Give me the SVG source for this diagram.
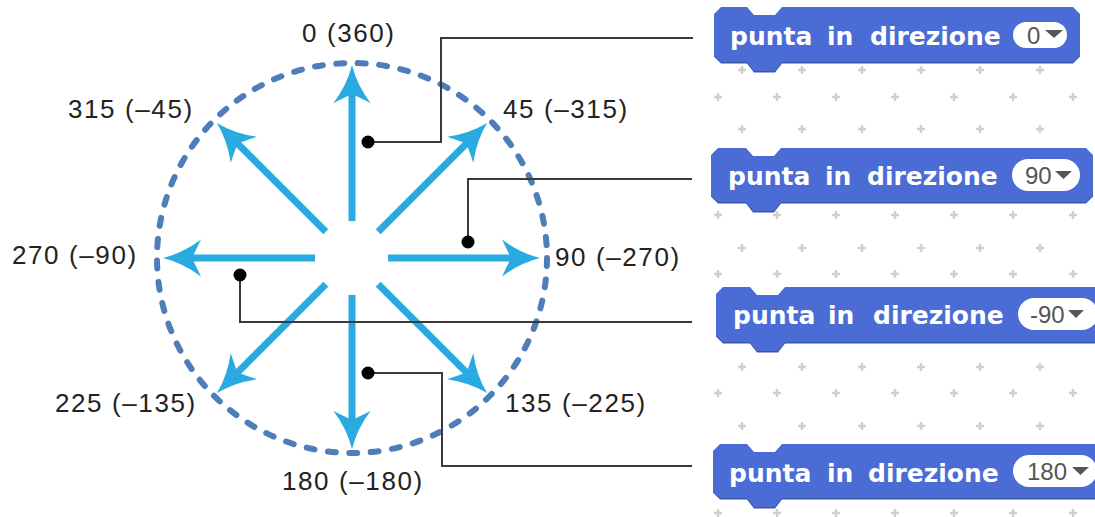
<svg xmlns="http://www.w3.org/2000/svg" width="1095" height="517" viewBox="0 0 1095 517">
<style>
.lbl{font-family:"Liberation Sans",Arial,sans-serif;font-size:26px;letter-spacing:1.6px;fill:#222}
.arrow{stroke:#29abe2;stroke-width:7;fill:none;marker-end:url(#ah)}
.conn{stroke:#3a3a3a;stroke-width:2;fill:none}
.dot{fill:#000}
.blk{fill:#4a6cd4}
.shd{fill:#3a56ab}
.btxt{font-family:"DejaVu Sans",Verdana,sans-serif;font-weight:bold;font-size:25px;fill:#fff}
.pill{fill:#fff}
.ptxt{font-family:"Liberation Sans",Arial,sans-serif;font-size:24px;fill:#555}
.tri{fill:#575757}
</style>
<defs>
<marker id="ah" markerUnits="userSpaceOnUse" viewBox="0 -20 40 40" markerWidth="40" markerHeight="40" refX="12" refY="0" orient="auto">
<path d="M38,0 Q18,-5 0,-18.5 L9,0 L0,18.5 Q18,5 38,0 Z" fill="#29abe2"/>
</marker>
<g id="p"><path d="M-4,0H4M0,-4V4" stroke="#cfcfcf" stroke-width="2.4"/></g>
</defs>

<g id="grid">
<use href="#p" x="742" y="70"/><use href="#p" x="802" y="70"/><use href="#p" x="862" y="70"/><use href="#p" x="921" y="70"/><use href="#p" x="980" y="70"/><use href="#p" x="1040" y="70"/>
<use href="#p" x="718" y="97"/><use href="#p" x="777" y="97"/><use href="#p" x="836" y="97"/><use href="#p" x="895" y="97"/><use href="#p" x="954" y="97"/><use href="#p" x="1013" y="97"/><use href="#p" x="1073" y="97"/>
<use href="#p" x="742" y="129"/><use href="#p" x="802" y="129"/><use href="#p" x="862" y="129"/><use href="#p" x="921" y="129"/><use href="#p" x="980" y="129"/><use href="#p" x="1040" y="129"/>
<use href="#p" x="718" y="215"/><use href="#p" x="777" y="215"/><use href="#p" x="836" y="215"/><use href="#p" x="895" y="215"/><use href="#p" x="954" y="215"/><use href="#p" x="1013" y="215"/><use href="#p" x="1073" y="215"/>
<use href="#p" x="742" y="248"/><use href="#p" x="802" y="248"/><use href="#p" x="862" y="248"/><use href="#p" x="921" y="248"/><use href="#p" x="980" y="248"/><use href="#p" x="1040" y="248"/>
<use href="#p" x="718" y="274"/><use href="#p" x="777" y="274"/><use href="#p" x="836" y="274"/><use href="#p" x="895" y="274"/><use href="#p" x="954" y="274"/><use href="#p" x="1013" y="274"/><use href="#p" x="1073" y="274"/>
<use href="#p" x="742" y="367"/><use href="#p" x="802" y="367"/><use href="#p" x="862" y="367"/><use href="#p" x="921" y="367"/><use href="#p" x="980" y="367"/><use href="#p" x="1040" y="367"/>
<use href="#p" x="718" y="393"/><use href="#p" x="777" y="393"/><use href="#p" x="836" y="393"/><use href="#p" x="895" y="393"/><use href="#p" x="954" y="393"/><use href="#p" x="1013" y="393"/><use href="#p" x="1073" y="393"/>
<use href="#p" x="742" y="426"/><use href="#p" x="802" y="426"/><use href="#p" x="862" y="426"/><use href="#p" x="921" y="426"/><use href="#p" x="980" y="426"/><use href="#p" x="1040" y="426"/>
<use href="#p" x="718" y="513"/><use href="#p" x="777" y="513"/><use href="#p" x="836" y="513"/><use href="#p" x="895" y="513"/><use href="#p" x="954" y="513"/><use href="#p" x="1013" y="513"/><use href="#p" x="1073" y="513"/>
</g>

<g id="compass">
<circle cx="352" cy="258" r="195" fill="none" stroke="#4f7db8" stroke-width="6" stroke-dasharray="8 13.495" stroke-linecap="round"/>
<line class="arrow" x1="352" y1="221" x2="352" y2="91"/>
<line class="arrow" x1="352" y1="295" x2="352" y2="423"/>
<line class="arrow" x1="388" y1="258" x2="514" y2="258"/>
<line class="arrow" x1="315" y1="258" x2="189" y2="258"/>
<line class="arrow" x1="378.2" y1="231.8" x2="468.7" y2="141.3"/>
<line class="arrow" x1="325.8" y1="231.8" x2="235.3" y2="141.3"/>
<line class="arrow" x1="378.2" y1="284.2" x2="468.7" y2="374.7"/>
<line class="arrow" x1="325.8" y1="284.2" x2="235.3" y2="374.7"/>
</g>

<g id="labels">
<text class="lbl" x="302" y="42">0 (360)</text>
<text class="lbl" x="68" y="118">315 (–45)</text>
<text class="lbl" x="503" y="118">45 (–315)</text>
<text class="lbl" x="12" y="264">270 (–90)</text>
<text class="lbl" x="555" y="266">90 (–270)</text>
<text class="lbl" x="55" y="412">225 (–135)</text>
<text class="lbl" x="505" y="412">135 (–225)</text>
<text class="lbl" x="282" y="490">180 (–180)</text>
</g>

<g id="connectors">
<path class="conn" d="M368,142 H441 V38 H693"/>
<path class="conn" d="M468,242 V179 H692"/>
<path class="conn" d="M240,275 V322 H692"/>
<path class="conn" d="M368,373 H442 V466 H692"/>
<circle class="dot" cx="368" cy="142" r="6.5"/>
<circle class="dot" cx="468" cy="242" r="6.5"/>
<circle class="dot" cx="240" cy="275" r="6.5"/>
<circle class="dot" cx="368" cy="373" r="6.5"/>
</g>

<g id="block1">
<path class="shd" transform="translate(0,1.5)" d="M714,14 L721,7 H747 L754,15 H775 L782,7 H1073 L1080,14 V55 L1073,62 H782 L775,71 H754 L747,62 H721 L714,55 Z"/>
<path class="blk" d="M714,14 L721,7 H747 L754,15 H775 L782,7 H1073 L1080,14 V55 L1073,62 H782 L775,71 H754 L747,62 H721 L714,55 Z"/>
<text class="btxt" y="45"><tspan x="730">punta</tspan><tspan x="827">in</tspan><tspan x="870">direzione</tspan></text>
<rect class="pill" x="1013" y="22" width="54" height="26" rx="13"/>
<text class="ptxt" x="1027" y="43.5">0</text>
<path class="tri" d="M1045,30 H1063 L1054,38 Z"/>
</g>

<g id="block2">
<path class="shd" transform="translate(0,1.5)" d="M711,155 L718,148 H746 L753,156 H774 L781,148 H1086 L1093,155 V195 L1086,202 H781 L774,211 H753 L746,202 H718 L711,195 Z"/>
<path class="blk" d="M711,155 L718,148 H746 L753,156 H774 L781,148 H1086 L1093,155 V195 L1086,202 H781 L774,211 H753 L746,202 H718 L711,195 Z"/>
<text class="btxt" y="185"><tspan x="728">punta</tspan><tspan x="825">in</tspan><tspan x="867">direzione</tspan></text>
<rect class="pill" x="1012" y="159" width="68" height="32" rx="16"/>
<text class="ptxt" x="1025" y="184">90</text>
<path class="tri" d="M1055,171 H1072 L1063.5,179 Z"/>
</g>

<g id="block3">
<path class="shd" transform="translate(0,1.5)" d="M716,294 L723,287 H750 L757,295 H778 L785,287 H1095 L1102,294 V335 L1095,342 H785 L778,351 H757 L750,342 H723 L716,335 Z"/>
<path class="blk" d="M716,294 L723,287 H750 L757,295 H778 L785,287 H1095 L1102,294 V335 L1095,342 H785 L778,351 H757 L750,342 H723 L716,335 Z"/>
<text class="btxt" y="324"><tspan x="733">punta</tspan><tspan x="828">in</tspan><tspan x="873">direzione</tspan></text>
<rect class="pill" x="1018" y="298" width="80" height="32" rx="16"/>
<text class="ptxt" x="1030" y="323">-90</text>
<path class="tri" d="M1068,310 H1084 L1076,318 Z"/>
</g>

<g id="block4">
<path class="shd" transform="translate(0,1.5)" d="M713,451 L720,444 H747 L754,452 H775 L782,444 H1095 L1102,451 V491 L1095,498 H782 L775,507 H754 L747,498 H720 L713,491 Z"/>
<path class="blk" d="M713,451 L720,444 H747 L754,452 H775 L782,444 H1095 L1102,451 V491 L1095,498 H782 L775,507 H754 L747,498 H720 L713,491 Z"/>
<text class="btxt" y="482"><tspan x="729">punta</tspan><tspan x="827">in</tspan><tspan x="868">direzione</tspan></text>
<rect class="pill" x="1013" y="455" width="84" height="32" rx="16"/>
<text class="ptxt" x="1027" y="480">180</text>
<path class="tri" d="M1072,467 H1089 L1080.5,475 Z"/>
</g>
</svg>
